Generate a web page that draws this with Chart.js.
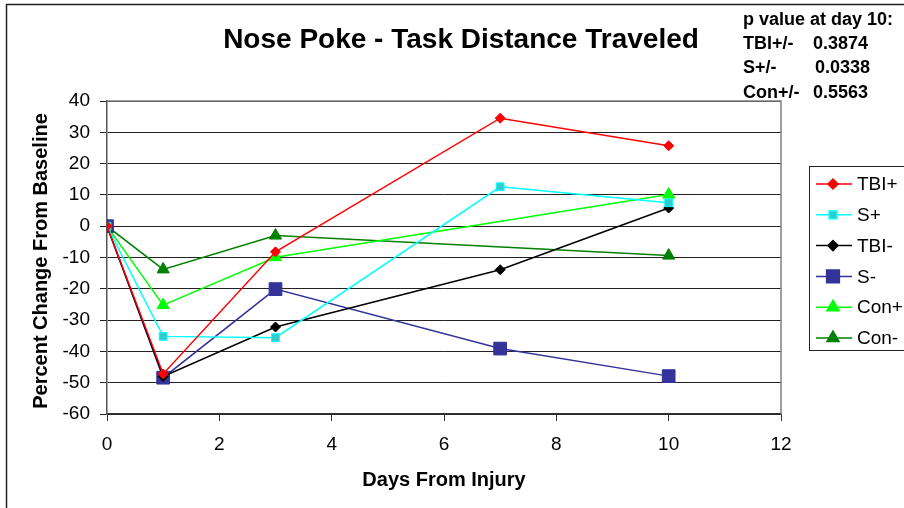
<!DOCTYPE html>
<html>
<head>
<meta charset="utf-8">
<script src="https://cdn.jsdelivr.net/npm/chart.js@4"></script>
<style>
  html, body { margin: 0; padding: 0; background: #fff; }
  canvas { display: block; }
</style>
</head>
<body>
<canvas id="chart" width="904" height="508"></canvas>
<script>
const days = [0, 1, 3, 7, 10];
const tbiPlus = [0, -47.2, -8.2, 34.5, 25.7];
const sPlus = [0, -35.2, -35.6, 12.6, 7.5];
const tbiMinus = [0, -48, -32.2, -13.9, 5.8];
const sMinus = [0, -48.4, -20.1, -39.1, -47.9];
const conPlus = [0, -25.2, -9.9, null, 10.1];
const conMinus = [0, -13.8, -3.0, null, -9.4];

const pLabels = ["TBI+/-", "S+/-", "Con+/-"];
const pValues = ["0.3874", "0.0338", "0.5563"];

const FONT = "Arial, 'Liberation Sans', sans-serif";

function pts(vals) {
  return days.map((d, i) => ({ x: d, y: vals[i] })).filter((p) => p.y !== null);
}

const series = [
  { label: "TBI+", data: tbiPlus, line: "#ff0000", fill: "#ff0000", style: "rectRot", r: 5 },
  { label: "S+", data: sPlus, line: "#00ffff", fill: "#33cccc", style: "rect", r: 5.5 },
  { label: "TBI-", data: tbiMinus, line: "#000000", fill: "#000000", style: "rectRot", r: 5 },
  { label: "S-", data: sMinus, line: "#333399", fill: "#333399", style: "rect", r: 9 },
  { label: "Con+", data: conPlus, line: "#00ff00", fill: "#00ff00", style: "triangle", r: 7 },
  { label: "Con-", data: conMinus, line: "#008000", fill: "#008000", style: "triangle", r: 7 },
];

const decor = {
  id: "decor",
  beforeDraw(chart) {
    const ctx = chart.ctx;
    ctx.save();
    ctx.fillStyle = "#fff";
    ctx.fillRect(0, 0, chart.width, chart.height);
    ctx.strokeStyle = "#222";
    ctx.lineWidth = 1.5;
    ctx.beginPath();
    ctx.moveTo(6.5, 512);
    ctx.lineTo(6.5, 4.5);
    ctx.lineTo(910, 4.5);
    ctx.stroke();
    ctx.restore();
  },
  afterDraw(chart) {
    const ctx = chart.ctx;
    const a = chart.chartArea;
    ctx.save();
    // plot area border top / right
    ctx.strokeStyle = "#808080";
    ctx.lineWidth = 1.5;
    ctx.beginPath();
    ctx.moveTo(a.left, a.top);
    ctx.lineTo(a.right, a.top);
    ctx.lineTo(a.right, a.bottom);
    ctx.stroke();

    ctx.fillStyle = "#000";
    ctx.textAlign = "center";
    ctx.textBaseline = "middle";
    ctx.font = "bold 28px " + FONT;
    ctx.fillText("Nose Poke - Task Distance Traveled", 461, 40);
    ctx.font = "bold 20px " + FONT;
    ctx.fillText("Days From Injury", (a.left + a.right) / 2, 480);
    ctx.save();
    ctx.translate(41, 261);
    ctx.rotate(-Math.PI / 2);
    ctx.fillText("Percent Change From Baseline", 0, 0);
    ctx.restore();

    // p value text
    ctx.fillStyle = "#fff";
    ctx.fillRect(738, 6, 166, 94);
    ctx.fillStyle = "#000";
    ctx.textAlign = "left";
    ctx.font = "bold 18px " + FONT;
    ctx.fillText("p value at day 10:", 743, 20);
    pLabels.forEach((l, i) => {
      const y = 44 + i * 24.5;
      ctx.fillText(l, 743, y);
      ctx.fillText(pValues[i], i === 1 ? 815 : 813, y);
    });

    // legend
    ctx.fillStyle = "#fff";
    ctx.fillRect(809, 166, 100, 184);
    ctx.strokeStyle = "#222";
    ctx.lineWidth = 1;
    ctx.strokeRect(809.5, 166.5, 100, 184);
    ctx.font = "19px " + FONT;
    series.forEach((s, i) => {
      const y = 184 + i * 30.8;
      ctx.strokeStyle = s.line;
      ctx.lineWidth = 1.5;
      ctx.beginPath();
      ctx.moveTo(816, y);
      ctx.lineTo(852, y);
      ctx.stroke();
      ctx.fillStyle = s.fill;
      ctx.strokeStyle = s.line;
      Chart.helpers.drawPoint(ctx, { pointStyle: s.style, radius: s.r, rotation: 0, borderWidth: 1 }, 833, y);
      ctx.fillStyle = "#000";
      ctx.fillText(s.label, 857, y + 1);
    });
    ctx.restore();
  },
};

new Chart(document.getElementById("chart"), {
  type: "line",
  data: {
    datasets: series.map((s) => ({
      label: s.label,
      data: pts(s.data),
      borderColor: s.line,
      backgroundColor: s.fill,
      borderWidth: 1.5,
      pointStyle: s.style,
      pointRadius: s.r,
      pointBackgroundColor: s.fill,
      pointBorderColor: s.line,
      pointBorderWidth: 1,
      tension: 0,
    })),
  },
  options: {
    responsive: false,
    animation: false,
    events: [],
    layout: { padding: { top: 101, right: 123, left: 0, bottom: 0 } },
    plugins: { legend: { display: false }, tooltip: { enabled: false }, title: { display: false } },
    scales: {
      x: {
        type: "linear",
        min: 0,
        max: 12,
        afterFit: (s) => { s.height = 94; },
        ticks: { stepSize: 2, color: "#000", font: { family: FONT, size: 19 }, padding: 12, maxRotation: 0 },
        grid: { drawOnChartArea: false, drawTicks: true, tickLength: 7, color: "#333", lineWidth: 1 },
        border: { color: "#333", width: 1.5 },
      },
      y: {
        min: -60,
        max: 40,
        afterFit: (s) => { s.width = 107; },
        ticks: { stepSize: 10, color: "#000", font: { family: FONT, size: 19 }, padding: 10 },
        grid: { drawOnChartArea: true, drawTicks: true, tickLength: 7, color: "#222", lineWidth: 1 },
        border: { color: "#555", width: 1.5 },
      },
    },
  },
  plugins: [decor],
});
</script>
</body>
</html>
